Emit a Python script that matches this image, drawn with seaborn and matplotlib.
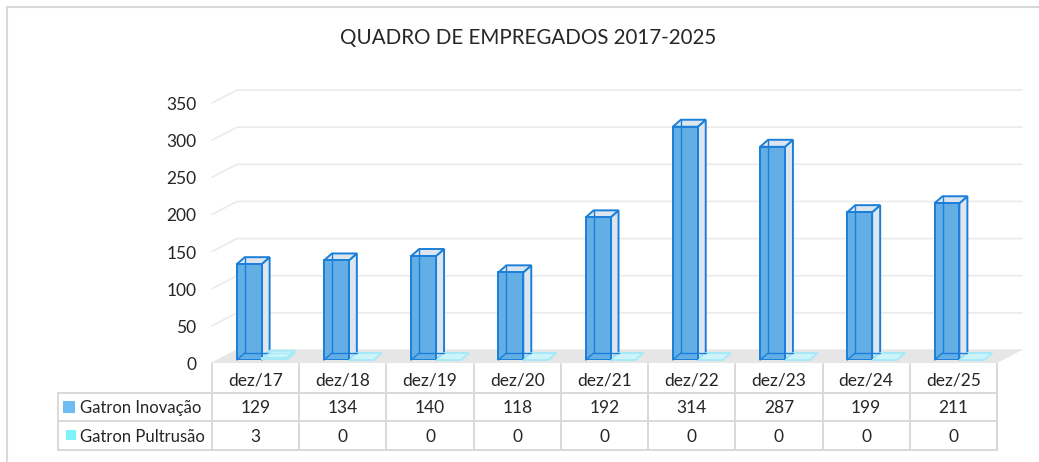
import numpy as np
import pandas as pd
import matplotlib
matplotlib.use("Agg")
import matplotlib.pyplot as plt
import seaborn as sns
from matplotlib.patches import Polygon, Rectangle
from matplotlib.lines import Line2D
from matplotlib.transforms import IdentityTransform, ScaledTranslation

# ---------------- data ----------------
categories = ["dez/17", "dez/18", "dez/19", "dez/20", "dez/21",
              "dez/22", "dez/23", "dez/24", "dez/25"]
series_names = ["Gatron Inovação", "Gatron Pultrusão"]
inovacao = [129, 134, 140, 118, 192, 314, 287, 199, 211]
pultrusao = [3, 0, 0, 0, 0, 0, 0, 0, 0]
y_ticks = [0, 50, 100, 150, 200, 250, 300, 350]
title = "QUADRO DE EMPREGADOS 2017-2025"

# ---------------- style ----------------
W, H = 1039, 462
BLUE_FRONT = "#64aee6"
BLUE_SIDE = "#dde6ef"
BLUE_EDGE = "#1a7fd8"
CYAN_FRONT = "#7ff0fa"
CYAN_SIDE = "#cdf4fb"
CYAN_EDGE = "#a6e9f7"
GRID = "#ebebeb"
FLOOR = "#e6e6e6"
TABLE_LINE = "#d9d9d9"
TEXT = "#262626"

sns.set_theme(style="white")
plt.rcParams["font.family"] = ["Lato", "DejaVu Sans"]

fig = plt.figure(figsize=(W / 100, H / 100), dpi=100)
fig.patch.set_facecolor("white")


def fx(px):
    return px / W


def fy(py):
    return 1 - py / H


# main (bar plane) axes
ax = fig.add_axes([fx(218), fy(360), fx(1003) - fx(218), fy(100) - fy(360)])
df = pd.DataFrame({
    "mes": categories * 2,
    "valor": inovacao + pultrusao,
    "serie": [series_names[0]] * len(categories) + [series_names[1]] * len(categories),
})
sns.barplot(data=df, x="mes", y="valor", hue="serie", order=categories,
            hue_order=series_names, palette=[BLUE_FRONT, CYAN_FRONT],
            saturation=1, width=0.57, ax=ax, legend=False, errorbar=None,
            zorder=3)
ax.set_xlim(-0.5, len(categories) - 0.5)
ax.set_ylim(0, 350)
ax.set_facecolor("none")
for s in ax.spines.values():
    s.set_visible(False)
ax.set_xlabel("")
ax.set_ylabel("")
ax.set_xticks([])
ax.set_yticks(y_ticks)
ax.tick_params(axis="y", length=0, pad=15.5, labelsize=12.5, labelcolor=TEXT)
ax.grid(False)
shift_down = ScaledTranslation(0, -0.035, fig.dpi_scale_trans)
for tick in ax.yaxis.get_major_ticks():
    tick.label1.set_transform(tick.label1.get_transform() + shift_down)

FRONT = (-6, -3)   # pixel offset of the front plane
BACK = (19, 10)    # pixel offset of the back wall
DEPTH = (8, 7)     # bar depth in pixels
ID = IdentityTransform()
x_lo, x_hi = -0.5, len(categories) - 0.5


def P(x, y, off=(0, 0)):
    X, Y = ax.transData.transform((x, y))
    return (X + off[0], Y + off[1])


def add(pt, off):
    return (pt[0] + off[0], pt[1] + off[1])


# back-wall + side-wall gridlines
for v in y_ticks:
    pts = [P(x_lo, v, FRONT), P(x_lo, v, BACK), P(x_hi, v, BACK)]
    ax.add_line(Line2D([p[0] for p in pts], [p[1] for p in pts], color=GRID,
                       lw=1.2, transform=ID, zorder=0.5, clip_on=False))

# floor
ax.add_patch(Polygon([P(x_lo, 0, FRONT), P(x_hi, 0, FRONT),
                      P(x_hi, 0, BACK), P(x_lo, 0, BACK)],
                     closed=True, fc=FLOOR, ec="none", transform=ID,
                     zorder=1, clip_on=False))

# 3D bar faces
styles = [(BLUE_EDGE, BLUE_SIDE), (CYAN_EDGE, CYAN_SIDE)]
for container, (edge, side_c) in zip(ax.containers, styles):
    for rect in container:
        x0, w, h = rect.get_x(), rect.get_width(), rect.get_height()
        a, b, c, d = P(x0, 0), P(x0 + w, 0), P(x0 + w, h), P(x0, h)
        rect.set_edgecolor(edge)
        rect.set_linewidth(1.4)
        rect.set_zorder(3)
        if h > 0:
            ax.add_patch(Polygon([b, c, add(c, DEPTH), add(b, DEPTH)], closed=True,
                                 fc=side_c, ec=edge, lw=1.4, transform=ID,
                                 zorder=2.5, clip_on=False))
        ax.add_patch(Polygon([d, c, add(c, DEPTH), add(d, DEPTH)], closed=True,
                             fc=side_c, ec=edge, lw=1.4, transform=ID,
                             zorder=2.6, clip_on=False))
        if h > 0:
            for p, q in [(a, add(a, DEPTH)), (add(a, DEPTH), add(d, DEPTH)),
                         (add(a, DEPTH), add(b, DEPTH))]:
                ax.add_line(Line2D([p[0], q[0]], [p[1], q[1]], color=edge, lw=1.0,
                                   transform=ID, zorder=3.5, clip_on=False))

# ---------------- data table ----------------
tx = fig.add_axes([fx(58), fy(450), fx(997) - fx(58), fy(364) - fy(450)])
tx.set_xlim(58, 997)
tx.set_ylim(450, 364)
tx.axis("off")
col_edges = np.linspace(212, 997, len(categories) + 1)
row_edges = [364, 393, 421, 450]
lkw = dict(color=TABLE_LINE, lw=1.4, clip_on=False)
for xe in col_edges:
    tx.plot([xe, xe], [row_edges[0], row_edges[-1]], **lkw)
tx.plot([58, 58], [row_edges[1], row_edges[-1]], **lkw)
for ye in row_edges[1:]:
    tx.plot([58, 997], [ye, ye], **lkw)

centers = (col_edges[:-1] + col_edges[1:]) / 2
for xc, cat, v1, v2 in zip(centers, categories, inovacao, pultrusao):
    tx.text(xc, 380.5, cat, ha="center", va="center", fontsize=12.5, color=TEXT)
    tx.text(xc, 408, str(v1), ha="center", va="center", fontsize=12.5, color=TEXT)
    tx.text(xc, 436.5, str(v2), ha="center", va="center", fontsize=12.5, color=TEXT)

tx.add_patch(Rectangle((63, 401), 12, 12, fc="#6dbdf3", ec="none", clip_on=False))
tx.add_patch(Rectangle((66, 430), 10, 10, fc="#7ff3fb", ec="none", clip_on=False))
tx.text(80, 408, series_names[0], ha="left", va="center", fontsize=12, color=TEXT)
tx.text(80, 436.5, series_names[1], ha="left", va="center", fontsize=12, color=TEXT)

# ---------------- title & frame ----------------
fig.text(fx(528.5), fy(38), title, ha="center", va="center", fontsize=14.8, color=TEXT)
fig.add_artist(Line2D([fx(7), fx(7)], [fy(7), 0], color="#d9d9d9", lw=1.5))
fig.add_artist(Line2D([fx(7), 1], [fy(7), fy(7)], color="#d9d9d9", lw=1.5))

fig.savefig("out.png", dpi=100, facecolor="white")
